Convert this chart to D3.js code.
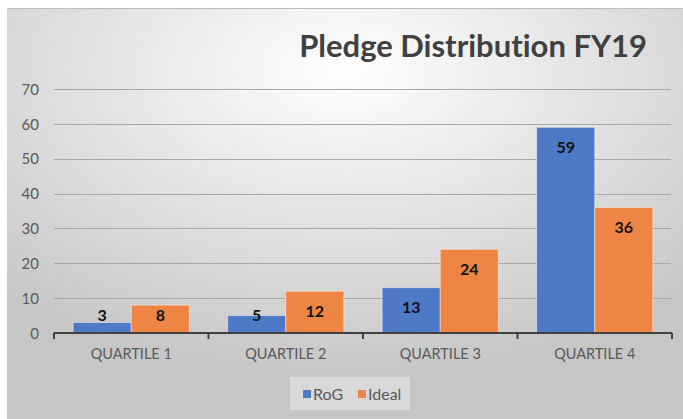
<!DOCTYPE html>
<html><head><meta charset="utf-8">
<script src="https://cdn.jsdelivr.net/npm/d3@7"></script>
<style>html,body{margin:0;padding:0;background:#fff;}svg{display:block;}text{font-variant-ligatures:none;}</style>
</head><body>
<svg id="c" width="683" height="419"></svg>
<script>
const categories = ["QUARTILE 1","QUARTILE 2","QUARTILE 3","QUARTILE 4"];
const seriesNames = ["RoG","Ideal"];
const rogValues = [3,5,13,59];
const idealValues = [8,12,24,36];
const yTicks = [0,10,20,30,40,50,60,70];
const title = "Pledge Distribution FY19";
const colors = ["#4E79C7","#EE8544"];

const svg = d3.select("#c");
const W = 683, H = 419;
const font = "Lato, 'Open Sans', sans-serif";

const defs = svg.append("defs");
const grad = defs.append("radialGradient").attr("id","bg")
  .attr("cx","50%").attr("cy","15%").attr("r","75%");
grad.append("stop").attr("offset","0%").attr("stop-color","#ffffff");
grad.append("stop").attr("offset","100%").attr("stop-color","#c6c6c6");

svg.append("rect").attr("x",7).attr("y",8).attr("width",W-7).attr("height",H-8)
  .attr("fill","url(#bg)");
svg.append("line").attr("x1",7).attr("x2",W).attr("y1",8.5).attr("y2",8.5)
  .attr("stroke","#bdbdbd").attr("stroke-width",1);

const x = d3.scaleBand().domain(categories).range([54,672]).paddingInner(0).paddingOuter(0);
const y = d3.scaleLinear().domain([0,70]).range([333,89]);
const xs = d3.scaleBand().domain(seriesNames).range([0, x.bandwidth()]).paddingInner(0).paddingOuter(0.33);

// gridlines
svg.append("g").selectAll("line").data(yTicks.filter(t=>t>0)).join("line")
  .attr("x1",54).attr("x2",671)
  .attr("y1",d=>Math.round(y(d))+0.5).attr("y2",d=>Math.round(y(d))+0.5)
  .attr("stroke","#a8a8a8").attr("stroke-width",1);

// y axis labels
const yAxis = d3.axisLeft(y).tickValues(yTicks).tickSize(0).tickPadding(0);
const ya = svg.append("g").attr("transform","translate(39,0)").call(yAxis);
ya.select(".domain").remove();
ya.selectAll("text").attr("font-family",font).attr("font-size",15).attr("fill","#595959").attr("dy","0.35em");

// bars
const data = categories.map((c,i)=>({cat:c, vals:[rogValues[i], idealValues[i]]}));
const groups = svg.append("g").selectAll("g").data(data).join("g")
  .attr("transform",d=>`translate(${x(d.cat)},0)`);
groups.selectAll("rect").data(d=>d.vals.map((v,j)=>({v, s:seriesNames[j], j}))).join("rect")
  .attr("x",d=>xs(d.s)).attr("width",xs.bandwidth())
  .attr("y",d=>y(d.v)).attr("height",d=>y(0)-y(d.v))
  .attr("fill",d=>colors[d.j]).attr("stroke","rgba(255,255,255,0.45)").attr("stroke-width",1);
groups.selectAll("text").data(d=>d.vals.map((v,j)=>({v, s:seriesNames[j], j}))).join("text")
  .attr("x",d=>xs(d.s)+xs.bandwidth()/2)
  .attr("y",d=>Math.min(y(d.v)+20, y(0)-18))
  .attr("dy","0.35em").attr("text-anchor","middle")
  .attr("font-family",font).attr("font-weight","bold").attr("font-size",16).attr("fill","#111")
  .text(d=>d.v);

// x axis
const xAxis = d3.axisBottom(x).tickSize(0).tickPadding(16);
const xa = svg.append("g").attr("transform","translate(0,333)").call(xAxis);
xa.select(".domain").attr("stroke","#404040").attr("stroke-width",2).attr("d","M54,0H672");
xa.selectAll("text").attr("font-family",font).attr("font-size",14.5).attr("fill","#595959");
svg.append("g").selectAll("line").data(categories.map(c=>x(c)).concat([x.range()[1]])).join("line")
  .attr("x1",d=>d).attr("x2",d=>d).attr("y1",333).attr("y2",339)
  .attr("stroke","#404040").attr("stroke-width",2);

// title
svg.append("text").attr("x",647).attr("y",57).attr("text-anchor","end")
  .attr("font-family",font).attr("font-weight","bold").attr("font-size",31).attr("fill","#404040")
  .text(title);

// legend
const lg = svg.append("g");
lg.append("rect").attr("x",290).attr("y",377).attr("width",120).attr("height",33).attr("fill","#e6e6e6").attr("opacity",0.6);
const items = [{n:seriesNames[0],c:colors[0],x:303},{n:seriesNames[1],c:colors[1],x:358}];
items.forEach(it=>{
  lg.append("rect").attr("x",it.x).attr("y",390).attr("width",8).attr("height",8).attr("fill",it.c);
  lg.append("text").attr("x",it.x+10).attr("y",394).attr("dy","0.35em")
    .attr("font-family",font).attr("font-size",16).attr("fill","#595959").text(it.n);
});
</script>
</body></html>
